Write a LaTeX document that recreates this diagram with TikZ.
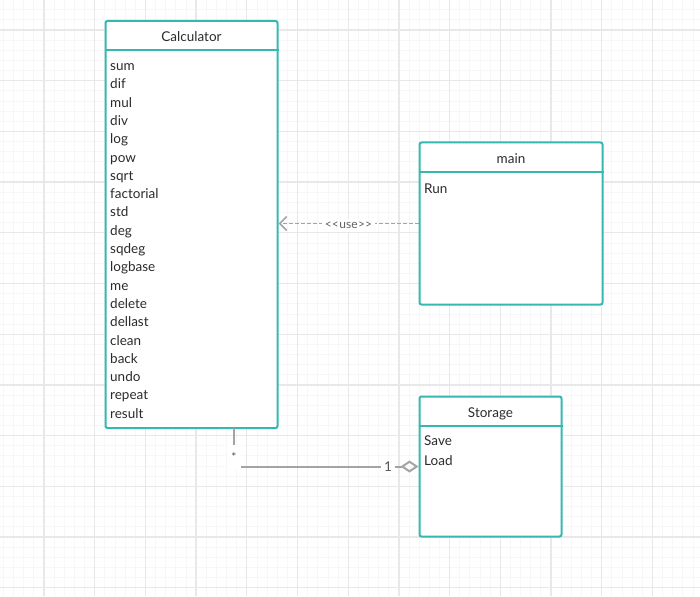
\documentclass[tikz,border=0pt]{standalone}
\usepackage{fontspec}
\setmainfont{Lato}
\usetikzlibrary{arrows.meta}
\definecolor{umlteal}{HTML}{34B8B0}
\definecolor{wire}{HTML}{A3A3A3}
\definecolor{ink}{HTML}{2B2B2B}
\definecolor{gridmajor}{HTML}{E8E8E8}
\definecolor{gridminor}{HTML}{F7F7F7}
\tikzset{
  minorline/.style={draw=gridminor, line width=0.8pt},
  majorline/.style={draw=gridmajor, line width=1.3pt},
  classbox/.style={draw=umlteal, line width=2pt, rounded corners=2pt, fill=white, anchor=north west, inner sep=0pt},
  classline/.style={draw=umlteal, line width=2pt},
  title/.style={text=ink, inner sep=0pt, text height=10pt, text depth=3pt, font=\fontsize{13.5}{15}\selectfont},
  member/.style={anchor=west, text=ink, inner sep=0pt, text height=10pt, text depth=3pt, font=\fontsize{13.5}{15}\selectfont},
  usedep/.style={draw=wire, line width=1.6pt, dash pattern=on 4pt off 2pt, -{Straight Barb[length=7pt,width=14pt]}},
  uselbl/.style={fill=white, text=ink!75, inner sep=3pt, font=\fontsize{12}{14}\selectfont},
  aggline/.style={draw=wire, line width=2pt, -{Diamond[open,length=18pt,width=12pt]}},
  multlbl/.style={fill=white, text=ink!80, inner sep=0pt, font=\fontsize{13.5}{15}\selectfont}
}

\begin{document}
\begin{tikzpicture}[x=1pt,y=-1pt]
\useasboundingbox (0,0) rectangle (700,596);
\begin{scope}
\clip (0,0) rectangle (700,596);
% grid
\foreach \i in {0,...,68} \draw[minorline] ({3.44+10.14*\i},0) -- ++(0,596);
\foreach \j in {0,...,58} \draw[minorline] (0,{9.72+10.14*\j}) -- ++(700,0);
\foreach \i in {0,...,12} \draw[majorline] ({44+50.7*\i},0) -- ++(0,596);
\foreach \j in {0,...,11} \draw[majorline] (0,{30+50.7*\j}) -- ++(700,0);
\end{scope}

% classes
\node[classbox, minimum width=172pt, minimum height=407pt] (calc) at (104.5,20) {};
\draw[classline] ([yshift=-30pt]calc.north west) -- ([yshift=-30pt]calc.north east);
\node[title] (calctitle) at ([yshift=-18pt]calc.north) {Calculator};
\foreach \op [count=\k from 0] in {sum,dif,mul,div,log,pow,sqrt,factorial,std,deg,sqdeg,logbase,me,delete,dellast,clean,back,undo,repeat,result}
  \node[member] (op\k) at (110,{67+18.3*\k}) {\op};

\node[classbox, minimum width=183pt, minimum height=162pt] (main) at (418.5,141.5) {};
\draw[classline] ([yshift=-30pt]main.north west) -- ([yshift=-30pt]main.north east);
\node[title] (maintitle) at ([yshift=-18pt]main.north) {main};
\node[member] (run) at (424,190) {Run};

\node[classbox, minimum width=142pt, minimum height=140pt] (store) at (418.5,395.5) {};
\draw[classline] ([yshift=-30pt]store.north west) -- ([yshift=-30pt]store.north east);
\node[title] (storetitle) at ([yshift=-18pt]store.north) {Storage};
\node[member] (save) at (424,442) {Save};
\node[member] (load) at (424,462) {Load};

% relations
\draw[usedep] (main.west) -- node[uselbl, yshift=-2pt] (use) {<{}<{\kern0.5pt}use{\kern0.5pt}>{}>} (main.west -| calc.east);

\coordinate (calcfoot) at (234,428);
\draw[aggline] (calcfoot) |- (store.west);
\node[multlbl, minimum width=14pt, minimum height=25pt] (many) at (234,457) {\raisebox{1pt}{\fontsize{12}{12}\selectfont *}};
\node[multlbl, minimum width=14pt, minimum height=16pt] (one) at (388,467) {1};
\end{tikzpicture}
\end{document}
